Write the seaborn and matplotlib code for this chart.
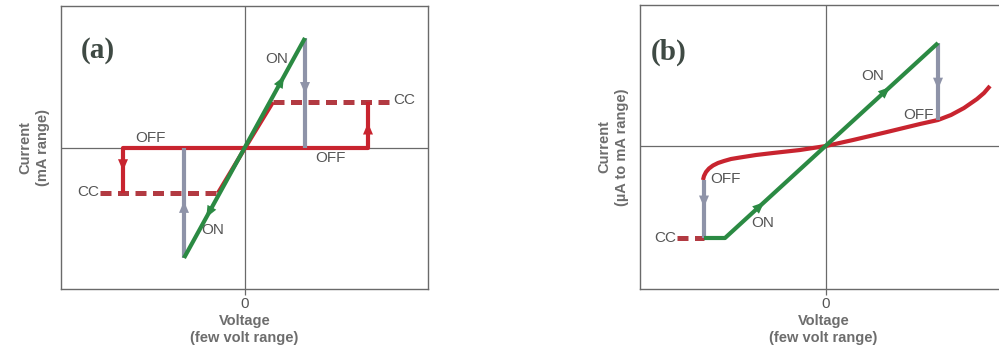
import numpy as np
import pandas as pd
import matplotlib
matplotlib.use("Agg")
import matplotlib.pyplot as plt
import seaborn as sns

# ---------------- data (units relative to the origin) ----------------
# panel (a)
a_on_x = [-61, 60]
a_on_y = [-110, 110]
a_off_x = [-122, -122, 123, 123]
a_off_y = [-45, 0, 0, 46]
a_ramp_x = [-27, 0, 28]
a_ramp_y = [-45, 0, 46]
a_cc_left_x = [-145, -27]
a_cc_left_y = [-45, -45]
a_cc_right_x = [28, 145]
a_cc_right_y = [46, 46]
a_set_x = [60, 60]
a_set_y = [110, 0]
a_reset_x = [-61, -61]
a_reset_y = [-110, 0]

# panel (b)
b_on_x = [-122, -101, 112]
b_on_y = [-92, -92, 103]
b_off_x = [-123, -122, -120, -117, -113, -108, -102, -95, -86, -70, -53, -26, 0,
           27, 61, 94, 112, 125, 138, 151, 158, 164]
b_off_y = [-34, -30, -26, -22.5, -19.5, -17, -15, -13, -11.5, -9, -7, -4, 0,
           6, 14, 22, 26, 31, 38, 47, 53, 60]
b_cc_x = [-149, -122]
b_cc_y = [-92, -92]
b_reset1_x = [-122, -122]
b_reset1_y = [-34, -92]
b_reset2_x = [112, 112]
b_reset2_y = [103, 26]

GREEN = "#2b8a43"
RED = "#c8242f"
DRED = "#b23a42"
GRAY = "#8e93a8"
TXT = "#555555"
AXC = "#6a6a6a"

sns.set_theme(style="white")
plt.rcParams["font.family"] = ["Liberation Sans Narrow", "Liberation Sans", "DejaVu Sans"]

fig = plt.figure(figsize=(9.99, 3.62), dpi=100)
axA = fig.add_axes([61 / 999, 73 / 362, 367 / 999, 283 / 362])
axB = fig.add_axes([640 / 999, 73 / 362, 367 / 999, 284 / 362])


def line(ax, xs, ys, color, lw, dashed=False, z=2):
    df = pd.DataFrame({"x": xs, "y": ys})
    sns.lineplot(data=df, x="x", y="y", sort=False, estimator=None, ax=ax,
                 color=color, lw=lw, zorder=z)
    ln = ax.lines[-1]
    ln.set_solid_joinstyle("round")
    if dashed:
        ln.set_dashes((2.2, 1.3))
        ln.set_dash_capstyle("butt")
    else:
        ln.set_solid_capstyle("butt")


def arrow(ax, xs, ys, t, color, scale=12, z=6):
    x0, y0, x1, y1 = xs[0], ys[0], xs[-1], ys[-1]
    px, py = x0 + t * (x1 - x0), y0 + t * (y1 - y0)
    dx, dy = (x1 - x0), (y1 - y0)
    n = np.hypot(dx, dy)
    dx, dy = dx / n, dy / n
    ax.annotate("", xy=(px + dx * 4, py + dy * 4), xytext=(px - dx * 4, py - dy * 4),
                arrowprops=dict(arrowstyle="-|>,head_length=0.7,head_width=0.3",
                                color=color, lw=0, shrinkA=0, shrinkB=0,
                                mutation_scale=scale), zorder=z)


def frame(ax, xlim, ylim, ylabel):
    ax.set_xlim(*xlim)
    ax.set_ylim(*ylim)
    for s in ax.spines.values():
        s.set_color(AXC)
        s.set_linewidth(1.0)
        s.set_visible(True)
    ax.axhline(0, color=AXC, lw=0.9, zorder=1)
    ax.axvline(0, color=AXC, lw=0.9, zorder=1)
    ax.set_xticks([0])
    ax.set_xticklabels(["0"])
    ax.set_yticks([])
    ax.tick_params(axis="x", bottom=True, length=4, width=0.9, color=AXC,
                   labelsize=11, labelcolor=TXT, pad=2)
    ax.set_xlabel("Voltage\n(few volt range)", fontsize=10.5, color="#6d6d6d",
                  fontweight="bold", linespacing=1.3, labelpad=2)
    ax.set_ylabel(ylabel, fontsize=10.5, color="#6d6d6d", fontweight="bold",
                  linespacing=1.3, labelpad=8)


FS = 11

# ---------------- panel (a) ----------------
ax = axA
frame(ax, (-184, 183), (-141, 142), "Current\n(mA range)")
line(ax, a_cc_left_x, a_cc_left_y, DRED, 3.6, dashed=True)
line(ax, a_cc_right_x, a_cc_right_y, DRED, 3.6, dashed=True)
line(ax, a_off_x, a_off_y, RED, 3.0)
line(ax, a_ramp_x, a_ramp_y, RED, 3.0)
line(ax, a_set_x, a_set_y, GRAY, 3.0, z=3)
line(ax, a_reset_x, a_reset_y, GRAY, 3.0, z=3)
line(ax, a_on_x, a_on_y, GREEN, 3.0, z=4)
arrow(ax, a_on_x, a_on_y, 0.81, GREEN)
arrow(ax, a_on_x[::-1], a_on_y[::-1], 0.80, GREEN)
arrow(ax, a_set_x, a_set_y, 0.47, GRAY)
arrow(ax, a_reset_x, a_reset_y, 0.48, GRAY)
arrow(ax, a_off_x[1::-1], a_off_y[1::-1], 0.42, RED)
arrow(ax, a_off_x[2:], a_off_y[2:], 0.46, RED)
ax.text(-147, 98, "(a)", family="Liberation Serif", fontweight="bold", fontsize=21,
        color="#3f4a44", ha="center", va="center")
ax.text(32, 89, "ON", fontsize=FS, color=TXT, ha="center", va="center")
ax.text(-95, 10, "OFF", fontsize=FS, color=TXT, ha="center", va="center")
ax.text(85, -10, "OFF", fontsize=FS, color=TXT, ha="center", va="center")
ax.text(148, 48, "CC", fontsize=FS, color=TXT, ha="left", va="center")
ax.text(-146, -44, "CC", fontsize=FS, color=TXT, ha="right", va="center")
ax.text(-32, -82, "ON", fontsize=FS, color=TXT, ha="center", va="center")

# ---------------- panel (b) ----------------
ax = axB
frame(ax, (-186, 181), (-143, 141), "Current\n(µA to mA range)")
line(ax, b_cc_x, b_cc_y, DRED, 3.6, dashed=True)
line(ax, b_off_x, b_off_y, RED, 3.0)
line(ax, b_reset1_x, b_reset1_y, GRAY, 3.0, z=3)
line(ax, b_reset2_x, b_reset2_y, GRAY, 3.0, z=3)
line(ax, b_on_x, b_on_y, GREEN, 3.0, z=4)
arrow(ax, b_on_x[1:], b_on_y[1:], 0.76, GREEN)
arrow(ax, b_on_x[1:], b_on_y[1:], 0.17, GREEN)
arrow(ax, b_reset1_x, b_reset1_y, 0.40, GRAY)
arrow(ax, b_reset2_x, b_reset2_y, 0.55, GRAY)
ax.text(-157, 94, "(b)", family="Liberation Serif", fontweight="bold", fontsize=21,
        color="#3f4a44", ha="center", va="center")
ax.text(47, 70, "ON", fontsize=FS, color=TXT, ha="center", va="center")
ax.text(92, 31, "OFF", fontsize=FS, color=TXT, ha="center", va="center")
ax.text(-101, -33, "OFF", fontsize=FS, color=TXT, ha="center", va="center")
ax.text(-63, -77, "ON", fontsize=FS, color=TXT, ha="center", va="center")
ax.text(-150, -92, "CC", fontsize=FS, color=TXT, ha="right", va="center")

fig.savefig("out.png", dpi=100, facecolor="white")
